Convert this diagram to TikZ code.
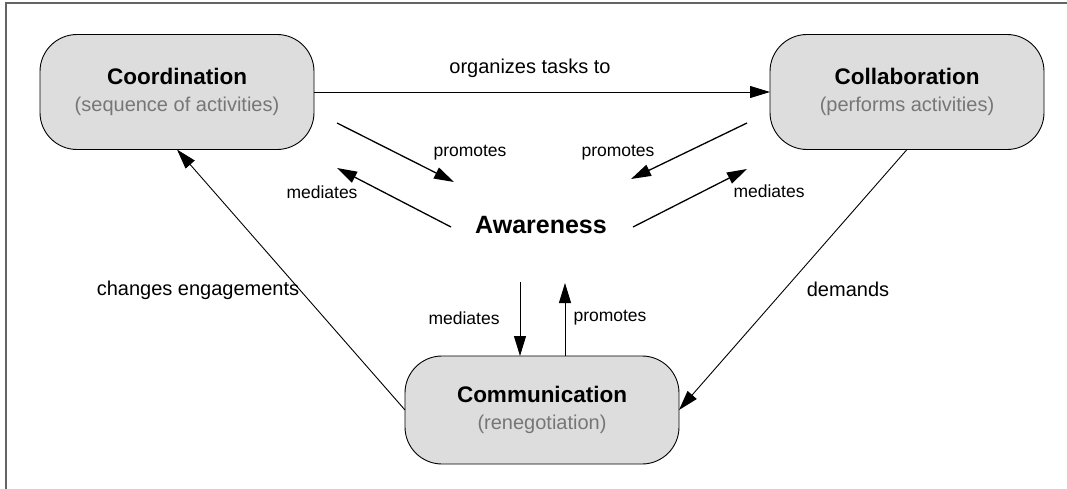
\documentclass[tikz,border=0pt]{standalone}
\usepackage{fontspec}
\setmainfont{Liberation Sans}
\usetikzlibrary{arrows.meta}
\definecolor{boxfill}{RGB}{221,221,221}
\definecolor{subgray}{RGB}{118,118,118}
\definecolor{framegray}{RGB}{100,100,100}
\newcommand{\acttitle}[2]{{\fontsize{22.5}{27}\selectfont\bfseries #1}\\{\color{subgray}#2}}
\begin{document}
\begin{tikzpicture}[x=1pt,y=-1pt,inner sep=0pt,outer sep=0pt,
actbox/.style={draw,fill=boxfill,rectangle,rounded corners=37pt,minimum width=274pt,minimum height=115pt,line width=0.9pt,align=center,font=\fontsize{20}{27}\selectfont},
lbl/.style={font=\fontsize{20}{24}\selectfont},
smalllbl/.style={font=\fontsize{17.5}{21}\selectfont},
arr/.style={-{Triangle[length=20pt,width=12pt]},line width=0.9pt},
sarr/.style={-{Triangle[length=20pt,width=12pt]},line width=1.3pt}]
\useasboundingbox (0,0) rectangle (1067,489);
\draw[framegray,line width=1.5pt] (6,489) -- (6,3) -- (1067,3);

\draw (177,92) node[actbox] (coord) {\acttitle{Coordination}{(sequence of activities)}};
\draw (907,92) node[actbox] (collab) {\acttitle{Collaboration}{(performs activities)}};
\draw (542,410) node[actbox,minimum height=108pt] (commu) {\acttitle{Communication}{(renegotiation)}};
\draw (541,225) node[font=\fontsize{25}{30}\selectfont\bfseries] (aware) {Awareness};

\draw[arr] (coord.east) -- (collab.west);
\draw[arr] (commu.west) -- (coord.south);
\draw[arr] (collab.south) -- (commu.east);
\node[lbl] (lorg) at (530,68) {organizes tasks to};
\node[lbl] (lchg) at (198,290) {changes engagements};
\node[lbl] (ldem) at (848,289) {demands};

\coordinate (pL1) at (337,123); \coordinate (pL2) at (454,182);
\coordinate (mL1) at (451,227); \coordinate (mL2) at (337,168);
\coordinate (pR1) at (747,123); \coordinate (pR2) at (631,179);
\coordinate (mR1) at (633,227); \coordinate (mR2) at (747,169);
\coordinate (mD) at (520,282);  \coordinate (pU) at (565,283);
\draw[sarr] (pL1) -- (pL2);
\draw[sarr] (mL1) -- (mL2);
\draw[sarr] (pR1) -- (pR2);
\draw[sarr] (mR1) -- (mR2);
\draw[arr] (mD) -- (mD |- commu.north);
\draw[arr] (commu.north -| pU) -- (pU);
\node[smalllbl] (lpL) at (470,153) {promotes};
\node[smalllbl] (lpR) at (618,153) {promotes};
\node[smalllbl] (lmL) at (322,192) {mediates};
\node[smalllbl] (lmR) at (769,191) {mediates};
\node[smalllbl] (lmD) at (464,318) {mediates};
\node[smalllbl] (lpU) at (610,318) {promotes};
\end{tikzpicture}
\end{document}
